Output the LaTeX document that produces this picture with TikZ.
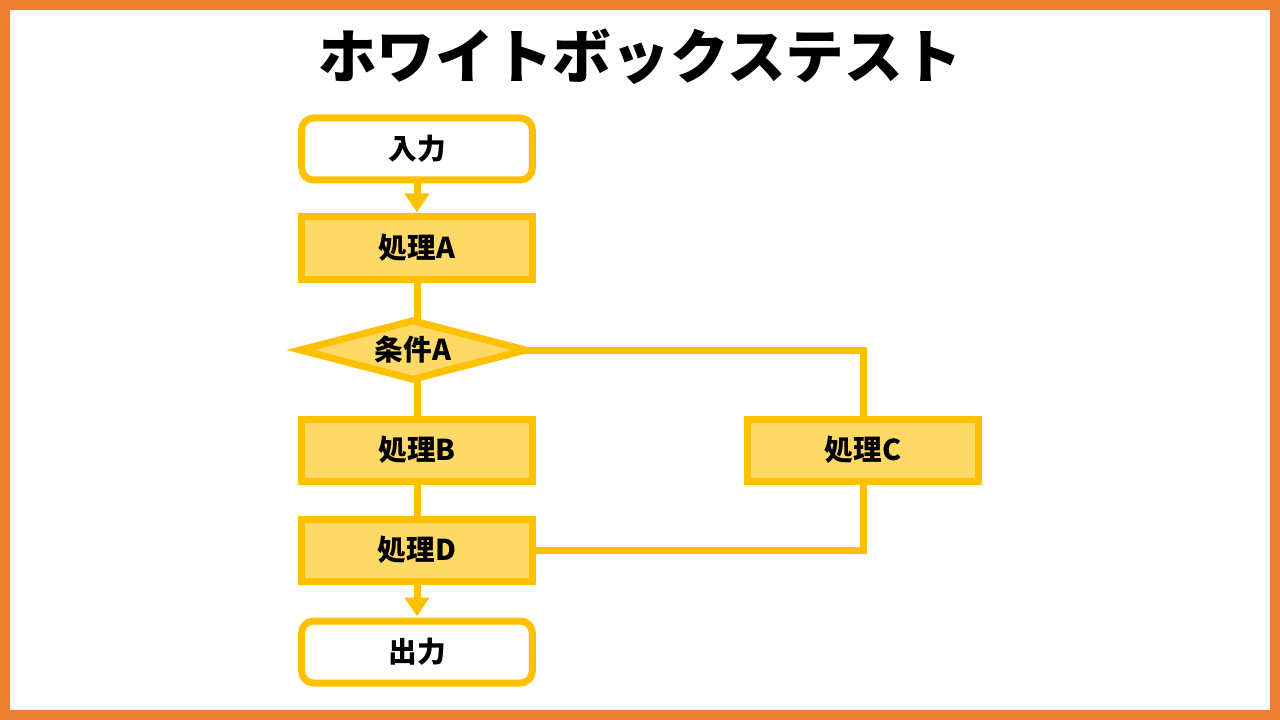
\documentclass[tikz,border=0pt]{standalone}
\usepackage{fontspec}
\setmainfont{Noto Sans CJK JP}
\usetikzlibrary{shapes, arrows.meta, positioning, backgrounds}
\definecolor{frameorange}{RGB}{237,125,49}
\definecolor{boxline}{RGB}{255,192,0}
\definecolor{boxfill}{RGB}{255,217,102}
\tikzset{
    every node/.style={font=\bfseries\fontsize{21.5}{25}\selectfont},
    io node/.style={draw=boxline, line width=5.25pt, rounded corners=9pt, fill=white,
      minimum width=173pt, minimum height=46.5pt, inner sep=0pt},
    proc node/.style={draw=boxline, line width=5.25pt, fill=boxfill,
      minimum width=173pt, minimum height=46.5pt, inner sep=0pt},
    cond node/.style={diamond, aspect=4, draw=boxline, line width=5.25pt, fill=boxfill,
      minimum width=171pt, minimum height=46pt, inner sep=0pt},
    flow/.style={draw=boxline, line width=5.25pt},
    flow arrow/.style={flow, -{Triangle[width=18pt, length=14pt]}, shorten >=1pt}
}

\begin{document}
\begin{tikzpicture}[x=0.75pt, y=-0.75pt]
  \useasboundingbox (0,0) rectangle (1280,720);
  \begin{scope}[on background layer]
    \fill[white] (0,0) rectangle (1280,720);
    \draw[frameorange, line width=7.5pt] (5,5) rectangle (1275,715);
  \end{scope}

  \node[font=\bfseries\fontsize{44}{50}\selectfont] (title) at (640,57) {ホワイトボックステスト};

  % flowchart
  \node[io node]   (in)   at (417,149) {入力};
  \node[proc node] (pa)   at (417,248) {処理A};
  \node[cond node] (cond) at (413,350) {条件A};
  \node[proc node] (pb)   at (417,450) {処理B};
  \node[proc node] (pc)   at (863,450) {処理C};
  \node[proc node] (pd)   at (417,550) {処理D};
  \node[io node]   (out)  at (417,652) {出力};

  % plain connectors run under the boxes
  \begin{scope}[on background layer]
    \draw[flow] (pa.center) -- (pa.center |- cond.center);
    \draw[flow] (pb.center |- cond.center) -- (pb.center) -- (pd.center);
    \draw[flow] (cond.center) -| (pc.center);
    \draw[flow] (pc.center) |- (pd.center);
  \end{scope}
  \draw[flow arrow] (in) -- (pa);
  \draw[flow arrow] (pd) -- (out);
\end{tikzpicture}
\end{document}
